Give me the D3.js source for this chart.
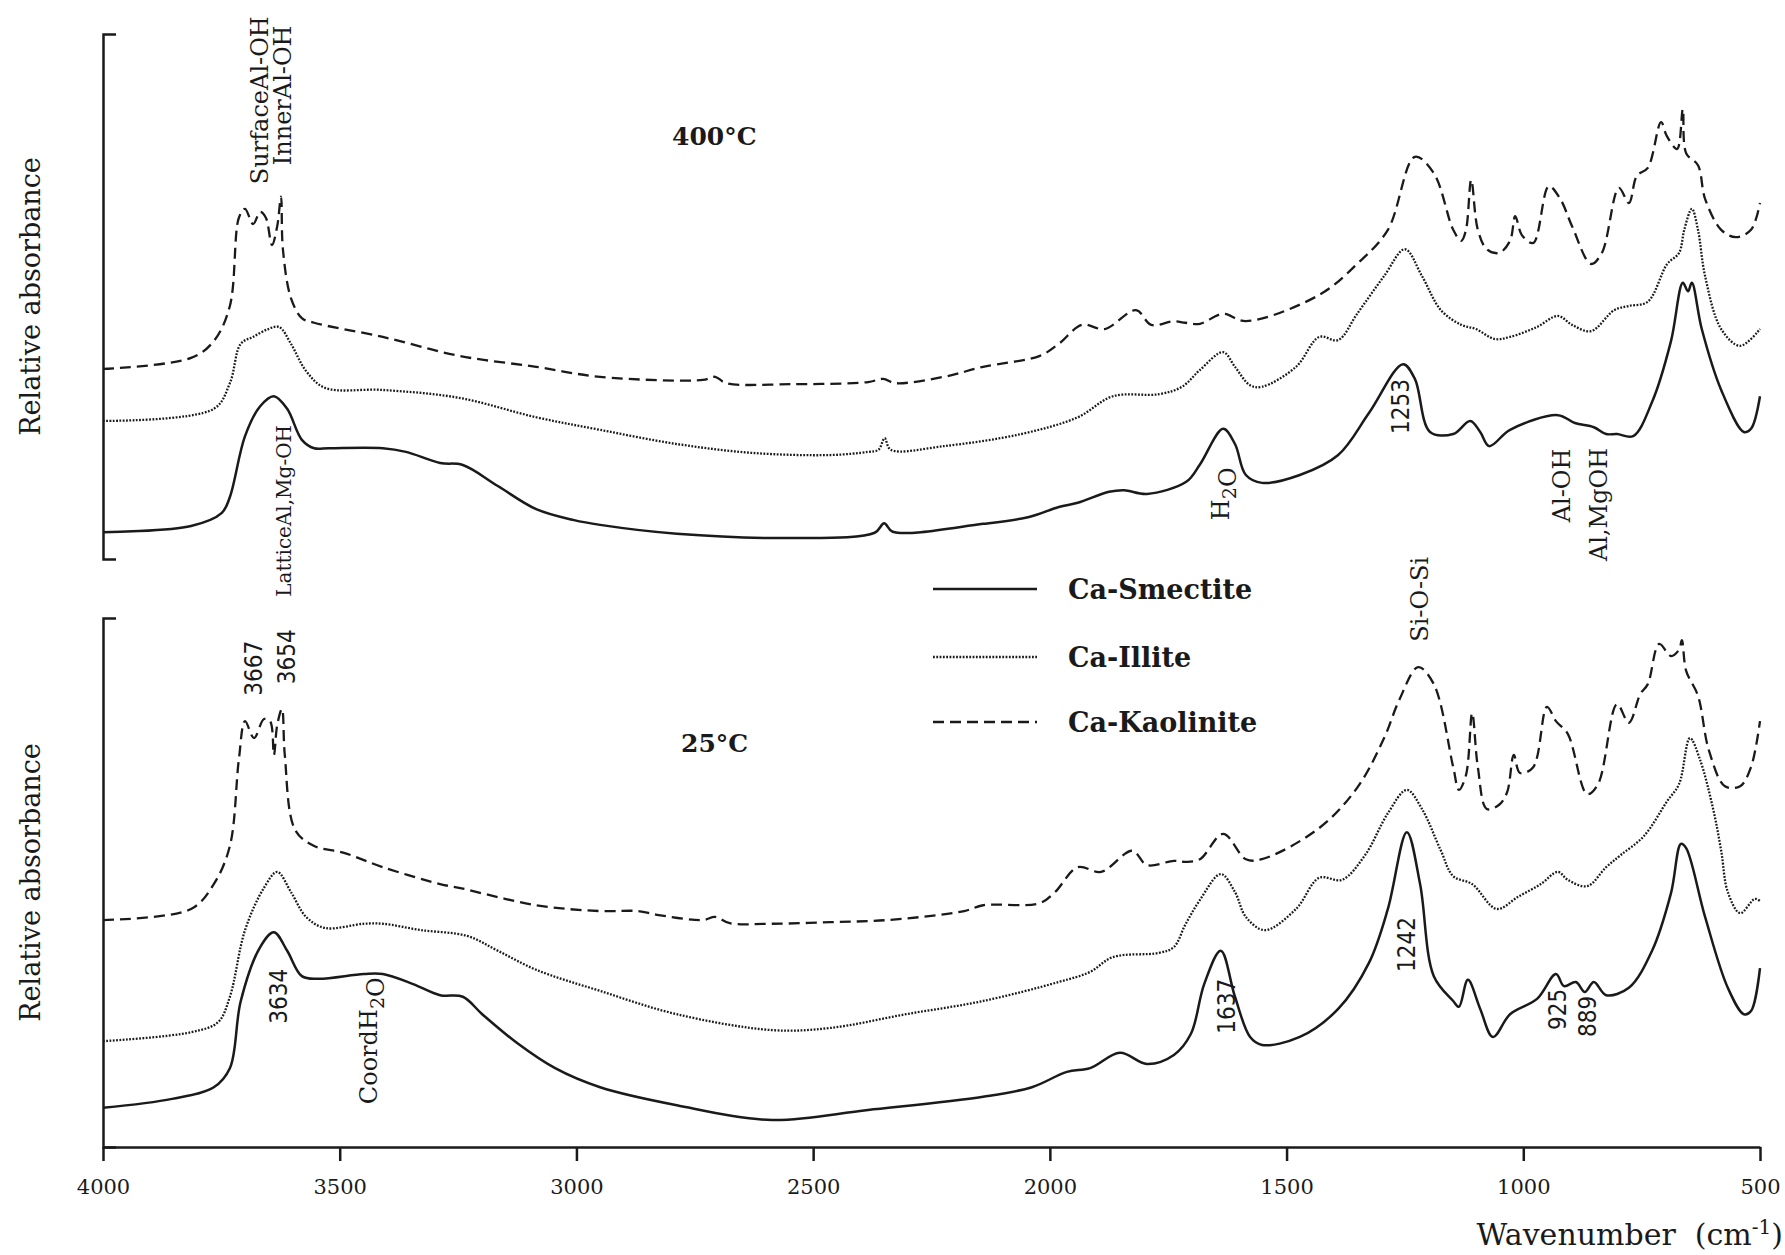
<!DOCTYPE html>
<html><head><meta charset="utf-8">
<script src="https://cdn.jsdelivr.net/npm/d3@7"></script>
<style>body{margin:0;background:#fff}</style>
</head><body>
<svg id="chart" width="1785" height="1255"></svg>
<script>
// ---------- data ----------
const xTickValues = [4000, 3500, 3000, 2500, 2000, 1500, 1000, 500];
const seriesNames = ["Ca-Smectite", "Ca-Illite", "Ca-Kaolinite"];
const panelTitles = ["400°C", "25°C"];
const yAxisTitle = "Relative absorbance";
const xAxisTitle = "Wavenumber";

// 400 °C spectra: [wavenumber, relative absorbance]
const smectite400 = [[4000,5.1],[3814,6.3],[3749,8.8],[3732,11.8],[3700,23.4],[3668,29.1],[3639,31.0],[3611,28.6],[3580,22.7],[3554,21.1],[3523,21.1],[3409,21.1],[3360,20.4],[3288,18.3],[3240,17.9],[3166,13.9],[3085,9.5],[3005,7.4],[2950,6.5],[2788,4.8],[2547,4.0],[2370,5.0],[2350,6.8],[2332,5.2],[2141,6.7],[2044,8.0],[1981,9.9],[1941,10.7],[1875,12.8],[1843,13.1],[1795,12.4],[1712,14.7],[1683,18.0],[1634,24.8],[1609,21.9],[1586,16.0],[1552,14.5],[1472,16.0],[1391,19.8],[1326,27.8],[1254,37.1],[1229,34.3],[1197,24.2],[1148,23.8],[1112,26.3],[1091,24.2],[1072,21.5],[1028,24.6],[927,27.4],[891,25.9],[851,25.1],[825,23.8],[802,23.8],[768,23.4],[728,29.9],[688,41.5],[663,52.6],[652,51.0],[644,52.6],[623,43.8],[582,32.2],[534,24.2],[519,24.8],[500,31.0]];
const illite400 = [[4000,26.3],[3766,28.6],[3732,33.5],[3709,41.0],[3683,42.3],[3651,43.8],[3628,44.2],[3603,41.0],[3571,35.8],[3531,32.6],[3409,32.2],[3248,30.7],[3085,27.0],[2950,24.6],[2788,21.9],[2627,20.2],[2464,19.8],[2384,20.4],[2362,20.8],[2349,23.0],[2336,20.8],[2224,21.5],[2061,23.8],[1941,27.0],[1867,31.0],[1769,31.4],[1721,32.8],[1683,36.0],[1634,39.4],[1609,36.6],[1577,33.1],[1552,32.8],[1480,36.6],[1431,42.3],[1391,41.7],[1351,46.7],[1294,53.9],[1250,59.0],[1214,53.9],[1174,47.4],[1131,44.6],[1100,43.8],[1060,41.9],[1028,42.3],[971,44.2],[927,46.3],[897,44.6],[857,43.4],[808,47.4],[777,48.2],[737,49.0],[696,56.2],[671,58.3],[660,62.7],[644,66.7],[631,62.7],[616,53.9],[582,43.8],[542,40.6],[500,43.8]];
const kaolinite400 = [[4000,36.2],[3814,38.3],[3766,41.5],[3732,48.2],[3713,65.0],[3700,66.7],[3683,63.8],[3668,66.1],[3656,65.0],[3643,59.8],[3632,63.4],[3624,69.0],[3620,59.0],[3603,49.7],[3580,45.9],[3554,45.0],[3409,42.3],[3248,38.7],[3085,36.6],[2950,34.7],[2733,34.1],[2707,34.7],[2684,33.5],[2547,33.3],[2384,33.7],[2352,34.3],[2327,33.5],[2224,34.7],[2141,36.6],[2021,38.7],[1981,41.0],[1932,44.6],[1884,43.8],[1818,47.4],[1786,44.6],[1738,45.3],[1714,45.0],[1683,44.8],[1634,46.7],[1586,45.3],[1431,50.3],[1351,56.2],[1286,62.7],[1229,76.6],[1189,73.5],[1148,62.7],[1131,60.6],[1121,62.7],[1110,72.2],[1096,62.7],[1077,59.0],[1051,58.3],[1028,60.6],[1017,65.3],[1003,61.7],[979,60.2],[946,71.0],[922,68.6],[897,63.4],[857,56.2],[834,58.3],[798,70.7],[777,67.8],[760,73.0],[737,74.5],[709,83.2],[697,80.6],[675,78.1],[663,85.7],[656,77.3],[631,75.0],[616,68.6],[582,62.7],[551,61.3],[519,62.7],[500,67.8]];

// 25 °C spectra
const smectite25 = [[4000,7.4],[3854,9.1],[3766,11.3],[3732,14.9],[3709,27.6],[3668,37.8],[3639,40.6],[3611,37.1],[3580,32.3],[3546,31.8],[3449,32.7],[3409,32.7],[3345,30.8],[3288,28.7],[3240,28.4],[3199,25.1],[3126,19.7],[3045,14.9],[2950,11.3],[2788,7.9],[2587,5.1],[2384,7.0],[2141,9.5],[2038,11.3],[1964,14.2],[1915,14.9],[1852,17.8],[1795,15.7],[1738,17.4],[1702,21.4],[1674,30.8],[1639,37.1],[1609,28.4],[1577,20.8],[1552,19.3],[1472,20.8],[1391,26.1],[1326,34.8],[1286,45.0],[1246,59.5],[1218,49.7],[1189,32.3],[1148,27.6],[1136,26.5],[1117,31.6],[1091,26.1],[1064,20.8],[1028,25.1],[971,28.0],[931,32.7],[914,30.4],[889,31.2],[870,29.3],[851,31.2],[825,28.7],[777,30.1],[728,37.1],[688,48.0],[667,57.3],[656,56.5],[616,43.5],[568,30.1],[534,25.1],[519,25.7],[500,33.8]];
const illite25 = [[4000,20.0],[3814,21.7],[3757,23.6],[3732,28.4],[3700,41.0],[3660,49.0],[3632,52.0],[3603,48.2],[3571,43.5],[3531,41.4],[3449,42.2],[3409,42.2],[3328,41.0],[3231,39.9],[3166,37.1],[3085,33.5],[2950,29.5],[2788,25.1],[2587,22.1],[2464,22.5],[2304,25.1],[2141,27.6],[1981,31.2],[1915,33.1],[1867,35.9],[1769,36.7],[1738,37.8],[1714,42.0],[1683,46.7],[1639,51.6],[1609,48.2],[1586,43.5],[1546,41.0],[1480,45.0],[1431,50.9],[1383,50.5],[1334,55.2],[1286,63.1],[1246,67.5],[1214,63.9],[1174,56.0],[1148,51.2],[1108,49.7],[1056,45.0],[1011,47.3],[963,49.7],[927,52.0],[906,50.5],[865,49.3],[825,52.9],[794,55.2],[745,58.8],[696,65.4],[671,68.6],[648,77.3],[627,73.3],[599,63.9],[582,56.0],[568,48.2],[542,44.2],[511,46.9],[500,46.5]];
const kaolinite25 = [[4000,42.9],[3814,45.0],[3766,49.7],[3732,56.9],[3713,73.3],[3700,80.5],[3681,77.3],[3660,80.9],[3647,80.5],[3639,74.1],[3632,79.8],[3622,82.8],[3616,74.1],[3594,59.9],[3554,56.9],[3491,55.6],[3409,52.9],[3288,49.7],[3248,49.0],[3085,45.7],[2950,44.6],[2870,44.6],[2830,43.9],[2733,42.9],[2707,43.5],[2676,42.3],[2587,42.2],[2464,42.5],[2344,42.9],[2181,44.6],[2141,45.7],[2021,46.1],[1989,48.2],[1941,52.9],[1892,52.0],[1826,56.0],[1795,53.3],[1738,54.1],[1714,53.9],[1683,54.4],[1634,59.2],[1586,54.4],[1552,54.4],[1431,60.3],[1351,67.9],[1294,77.3],[1262,84.5],[1222,90.7],[1189,87.5],[1148,71.8],[1136,67.5],[1121,70.3],[1108,82.0],[1096,71.8],[1077,63.9],[1051,64.7],[1034,67.1],[1020,74.1],[1007,70.7],[979,71.8],[950,83.2],[931,80.5],[906,78.1],[865,66.7],[842,68.6],[802,83.7],[777,80.2],[753,85.6],[737,87.5],[713,95.1],[688,92.8],[671,94.0],[665,95.8],[656,90.0],[631,85.3],[608,75.0],[574,68.2],[542,68.2],[519,71.8],[500,80.5]];

// band assignments: [text, wavenumber, absorbance at text start]  ("_2" = subscript)
const bands400 = [["SurfaceAl-OH",3651,71.4],["InnerAl-OH",3603,75.0],["LatticeAl,Mg-OH",3603,-7.2],["H_2O",1622,7.4],["Al-OH",901,7.0],["Al,MgOH",823,-0.4]];
const numbers400 = [["1253",1241,23.8]];
const bands25 = [["Si-O-Si",1201,95.5],["CoordH_2O",3421,8.1]];
const numbers25 = [["3667",3664,85.3],["3654",3594,87.5],["3634",3611,23.3],["1637",1609,21.4],["1242",1229,33.1],["925",910,22.1],["889",846,20.8]];
const titlePos = [[2798,78.9],[2779,74.7]];

// ---------- layout ----------
const svg = d3.select("#chart");
const ink = "#1a1a1a";
const serif = "'DejaVu Serif', serif";
const narrow = "'Liberation Sans Narrow', 'DejaVu Sans Condensed', sans-serif";

const x = d3.scaleLinear().domain([4000, 500]).range([103, 1760]);
const yTop = d3.scaleLinear().domain([0, 100]).range([559, 34]);
const yBot = d3.scaleLinear().domain([0, 100]).range([1147, 618]);

const styles = [
  {dash: null, width: 2.5},
  {dash: "1.8,1.5", width: 2.3},
  {dash: "11,6", width: 2.3}
];

function drawAxisY(scale) {
  const g = svg.append("g").attr("transform", `translate(${x(4000)},0)`)
    .call(d3.axisRight(scale).tickValues([]).tickSizeOuter(13));
  g.select(".domain").attr("stroke", ink).attr("stroke-width", 2.5).attr("fill", "none");
}
drawAxisY(yTop);
drawAxisY(yBot);

const gx = svg.append("g").attr("transform", `translate(0,${yBot(0)})`)
  .call(d3.axisBottom(x).tickValues(xTickValues).tickSize(14).tickSizeOuter(0).tickPadding(18).tickFormat(d3.format("d")));
gx.select(".domain").attr("stroke", ink).attr("stroke-width", 2.5);
gx.selectAll(".tick line").attr("stroke", ink).attr("stroke-width", 2.5);
gx.selectAll(".tick text").attr("fill", ink).style("font-family", serif).style("font-size", "21px");

// curves
function drawSpectra(list, yScale) {
  const line = d3.line().x(d => x(d[0])).y(d => yScale(d[1])).curve(d3.curveCatmullRom.alpha(0.5));
  list.forEach((data, i) => {
    svg.append("path").datum(data).attr("d", line)
      .attr("fill", "none").attr("stroke", ink)
      .attr("stroke-width", styles[i].width)
      .attr("stroke-dasharray", styles[i].dash)
      .attr("stroke-linejoin", "round");
  });
}
drawSpectra([smectite400, illite400, kaolinite400], yTop);
drawSpectra([smectite25, illite25, kaolinite25], yBot);

// vertical labels
function vlabel(str, px, py, size, family) {
  const t = svg.append("text").attr("transform", `translate(${px},${py}) rotate(-90)`)
    .attr("fill", ink).style("font-family", family).style("font-size", size + "px");
  const parts = str.split(/(_\d)/);
  parts.forEach(p => {
    if (!p) return;
    if (p.startsWith("_")) {
      t.append("tspan").attr("dy", size * 0.3).style("font-size", (size * 0.8) + "px").text(p.slice(1));
      t.append("tspan").attr("dy", -size * 0.3).text("");
    } else {
      t.append("tspan").text(p);
    }
  });
  return t;
}
const bandSize = {"LatticeAl,Mg-OH": 20};
bands400.forEach(b => vlabel(b[0], x(b[1]), yTop(b[2]), bandSize[b[0]] || 24, serif));
numbers400.forEach(b => vlabel(b[0], x(b[1]), yTop(b[2]), 24, narrow));
bands25.forEach(b => vlabel(b[0], x(b[1]), yBot(b[2]), 24, serif));
numbers25.forEach(b => vlabel(b[0], x(b[1]), yBot(b[2]), 24, narrow));

// y axis titles
[yTop, yBot].forEach(s => {
  svg.append("text").attr("transform", `translate(40,${(s(0) + s(100)) / 2}) rotate(-90)`)
    .attr("text-anchor", "middle").attr("fill", ink)
    .style("font-family", serif).style("font-size", "27px").text(yAxisTitle);
});

// panel titles
[yTop, yBot].forEach((s, i) => {
  svg.append("text").attr("x", x(titlePos[i][0])).attr("y", s(titlePos[i][1]))
    .attr("fill", ink).style("font-family", serif).style("font-weight", "bold").style("font-size", "25px")
    .text(panelTitles[i]);
});

// x axis title
const xt = svg.append("text").attr("x", 1783).attr("y", 1245).attr("text-anchor", "end")
  .attr("fill", ink).style("font-family", serif).style("font-size", "30px").attr("xml:space", "preserve");
xt.append("tspan").text(xAxisTitle + "  (cm");
xt.append("tspan").attr("dy", -11).style("font-size", "20px").text("-1");
xt.append("tspan").attr("dy", 11).text(")");

// legend
const legendRows = [589, 657, 722];
seriesNames.forEach((name, i) => {
  svg.append("line").attr("x1", 933).attr("x2", 1037).attr("y1", legendRows[i]).attr("y2", legendRows[i])
    .attr("stroke", ink).attr("stroke-width", styles[i].width).attr("stroke-dasharray", styles[i].dash);
  svg.append("text").attr("x", 1068).attr("y", legendRows[i] + 10)
    .attr("fill", ink).style("font-family", serif).style("font-weight", "bold").style("font-size", "27px")
    .text(name);
});
</script>
</body></html>
